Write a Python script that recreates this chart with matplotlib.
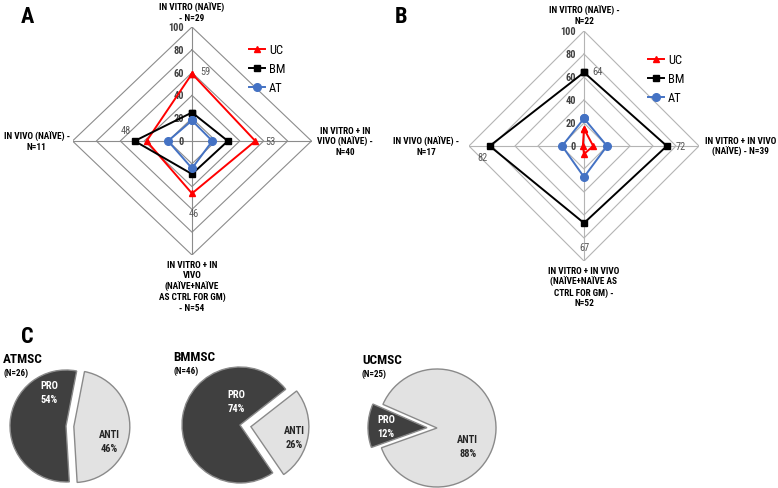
import numpy as np
import matplotlib
matplotlib.use('Agg')
import matplotlib.pyplot as plt
from matplotlib import font_manager

# pick a narrow sans if one is installed
names = {f.name for f in font_manager.fontManager.ttflist}
family = 'DejaVu Sans'
for cand in ['Liberation Sans Narrow', 'Roboto Condensed', 'DejaVu Sans Condensed',
             'Liberation Sans', 'Open Sans']:
    if cand in names:
        family = cand
        break
plt.rcParams['font.family'] = [family, 'DejaVu Sans']

W, H = 778, 489

# ---- data ----
series = ['UC', 'BM', 'AT']
colors = {'UC': '#ff0000', 'BM': '#000000', 'AT': '#4472c4'}
markers = {'UC': '^', 'BM': 's', 'AT': 'o'}

# order of spokes: top, right, bottom, left
cats_a = ['IN VITRO (NAÏVE)\n- N=29', 'IN VITRO + IN\nVIVO (NAÏVE) -\nN=40',
          'IN VITRO + IN\nVIVO\n(NAÏVE+NAÏVE\nAS CTRL FOR GM)\n- N=54', 'IN VIVO (NAÏVE) -\nN=11']
uc_a = [59, 53, 46, 38]
bm_a = [25, 30, 29, 48]
at_a = [18, 17, 24, 20]

cats_b = ['IN VITRO (NAÏVE) -\nN=22', 'IN VITRO + IN VIVO\n(NAÏVE) - N=39',
          'IN VITRO + IN VIVO\n(NAÏVE+NAÏVE AS\nCTRL FOR GM) -\nN=52', 'IN VIVO (NAÏVE) -\nN=17']
uc_b = [15, 8, 7, 1]
bm_b = [64, 72, 67, 82]
at_b = [24, 20, 27, 19]

ticks = [0, 20, 40, 60, 80, 100]

pie_names = ['ATMSC', 'BMMSC', 'UCMSC']
pie_n = [26, 46, 25]
pro = [54, 74, 12]
anti = [46, 26, 88]

angles = np.deg2rad([90, 0, -90, 180])


def px(x, y):
    return x / W, 1 - y / H


def xy(vals):
    v = np.array(list(vals) + [vals[0]], dtype=float)
    a = np.append(angles, angles[0])
    return v * np.cos(a), v * np.sin(a)


fig = plt.figure(figsize=(W / 100, H / 100), dpi=100)
CAT_FS = 6.7


def radar(cx, cy, rx, ry, cats, data, labels, gridc, leg_xy):
    ax = fig.add_axes([(cx - rx) / W, 1 - (cy + ry) / H, 2 * rx / W, 2 * ry / H])
    ax.set_xlim(-100, 100)
    ax.set_ylim(-100, 100)
    ax.axis('off')
    for lev in ticks[1:]:
        gx, gy = xy([lev] * 4)
        ax.plot(gx, gy, color=gridc, lw=0.8, zorder=1)
    for a in angles:
        ax.plot([0, 100 * np.cos(a)], [0, 100 * np.sin(a)], color=gridc, lw=0.8, zorder=1)
    for t in ticks:
        ax.annotate(str(t), (0, t), xytext=(-6, 0), textcoords='offset points',
                    ha='right', va='center', fontsize=7.5, fontweight='bold', color='#404040')
    for s in series:
        x, y = xy(data[s])
        ax.plot(x, y, color=colors[s], marker=markers[s], lw=1.4,
                ms=5.5 if s == 'AT' else (4 if s == 'BM' else 5), label=s, zorder=3)
    # data labels
    for (s, i, off) in labels:
        v = data[s][i]
        ax.annotate(str(v), (v * np.cos(angles[i]), v * np.sin(angles[i])), xytext=off,
                    textcoords='offset points', ha='center', va='center',
                    fontsize=7.5, color='#595959')
    # category labels
    kw = dict(fontsize=CAT_FS, fontweight='bold', linespacing=1.2, clip_on=False)
    ax.text(0, cats[4][2], cats[0], ha='center', va='bottom', **kw)
    ax.text(cats[4][0], 0, cats[1], ha='center', va='center', **kw)
    ax.text(0, -104, cats[2], ha='center', va='top', **kw)
    ax.text(cats[4][1], 0, cats[3], ha='center', va='center', **kw)
    ax.legend(loc='upper left', bbox_to_anchor=px(*leg_xy), bbox_transform=fig.transFigure,
              frameon=False, fontsize=9, handlelength=1.3, handletextpad=0.3,
              labelspacing=0.5, borderpad=0, borderaxespad=0, numpoints=1)
    return ax


radar(192, 142, 119.5, 114, cats_a + [(128, -130, 104)],
      {'UC': uc_a, 'BM': bm_a, 'AT': at_a},
      [('UC', 0, (10, 2)), ('UC', 1, (11, 0)), ('UC', 2, (1, -14)), ('BM', 3, (-6, 8))],
      '#8c8c8c', (249, 44))
radar(584, 147, 115, 115, cats_b + [(136, -137, 105)],
      {'UC': uc_b, 'BM': bm_b, 'AT': at_b},
      [('BM', 0, (10, 1)), ('BM', 1, (10, 0)), ('BM', 2, (0, -17)), ('BM', 3, (-5, -8))],
      '#b4b4b4', (648, 54))

fig.text(*px(27, 17), 'A', fontsize=16, fontweight='bold', ha='center', va='center')
fig.text(*px(401, 17), 'B', fontsize=16, fontweight='bold', ha='center', va='center')
fig.text(*px(27, 337), 'C', fontsize=16, fontweight='bold', ha='center', va='center')

# ---- pies ----
pie_pos = [(66, 427, 56), (240, 426, 58), (437, 429, 59)]
starts = [79, 38, 156.4]
explode = [(0, 0.14), (0, 0.19), (0.17, 0)]
title_xy = [(3, 360), (173, 358), (362, 361)]
txt_pos = [((-0.3, 0.6), (0.78, -0.27)), ((-0.07, 0.42), (0.93, -0.2)),
           ((-0.86, 0.03), (0.52, -0.3))]

for k in range(3):
    cx, cy, r = pie_pos[k]
    h = 1.3 * r
    ax = fig.add_axes([(cx - h) / W, 1 - (cy + h) / H, 2 * h / W, 2 * h / H])
    ax.pie([pro[k], anti[k]], colors=['#404040', '#e2e2e2'], startangle=starts[k],
           counterclock=True, explode=explode[k],
           wedgeprops=dict(edgecolor='#8a8a8a', linewidth=1.0))
    ax.set_xlim(-1.3, 1.3)
    ax.set_ylim(-1.3, 1.3)
    (px1, py1), (px2, py2) = txt_pos[k]
    ax.text(px1, py1, 'PRO\n%d%%' % pro[k], ha='center', va='center', color='white',
            fontsize=7.5, fontweight='bold', linespacing=1.5)
    ax.text(px2, py2, 'ANTI\n%d%%' % anti[k], ha='center', va='center', color='#262626',
            fontsize=7.5, fontweight='bold', linespacing=1.5)
    tx, ty = title_xy[k]
    fig.text(*px(tx, ty), pie_names[k], fontsize=9.5, fontweight='bold', ha='left', va='center')
    fig.text(*px(tx, ty + 13), '(N=%d)' % pie_n[k], fontsize=6.5, fontweight='bold',
             ha='left', va='center')

fig.savefig('out.png', dpi=100)
